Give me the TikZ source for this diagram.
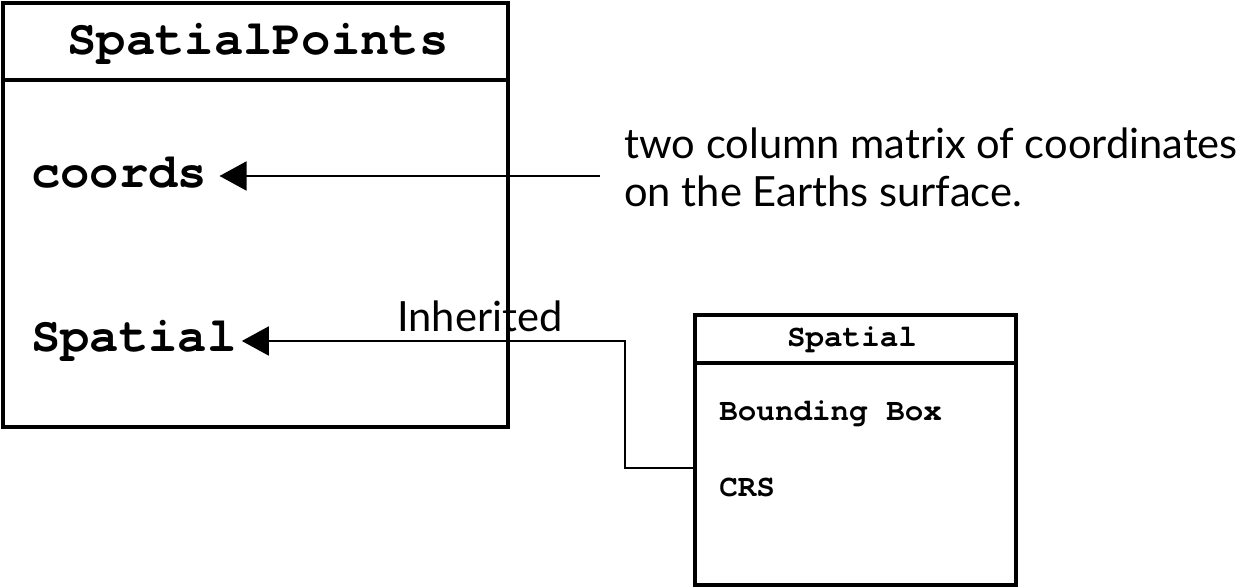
\documentclass[tikz,border=0pt]{standalone}
\usepackage{fontspec}
\newfontfamily\lato{Lato}
\newfontfamily\cour{TeX Gyre Cursor}
\usetikzlibrary{arrows.meta}
\begin{document}
\begin{tikzpicture}[x=0.02cm,y=-0.02cm,
  classbox/.style={draw=black,line width=2.27pt,fill=none,inner sep=0pt},
  smallbox/.style={draw=black,line width=2pt,fill=none,inner sep=0pt},
  bigtxt/.style={inner sep=0pt,font=\cour\bfseries\fontsize{27.8}{33}\selectfont},
  smalltxt/.style={inner sep=0pt,font=\cour\bfseries\fontsize{17.6}{21}\selectfont},
  note/.style={inner sep=0pt,font=\lato\fontsize{23.7}{28.4}\selectfont},
  conn/.style={draw=black,line width=1.13pt},
  arr/.style={conn,-{Triangle[length=0.54cm,width=0.58cm]}}]
\fill[white] (0,0) rectangle (1247,587);
\useasboundingbox (0,0) rectangle (1247,587);
% big class box
\node[classbox,minimum width=10.1cm,minimum height=8.48cm] (big) at (255.5,215) {};
\draw[line width=2.27pt] (big.west |- 0,80) -- (big.east |- 0,80);
\node[bigtxt,anchor=base] (bigtitle) at (258,54.5) {SpatialPoints};
\node[bigtxt,anchor=base west] (coords) at (31,188) {coords};
\node[bigtxt,anchor=base west] (spatial) at (31,352) {Spatial};
% small class box
\node[smallbox,minimum width=6.42cm,minimum height=5.4cm] (sbox) at (855.5,450) {};
\draw[line width=2pt] (sbox.west |- 0,363) -- (sbox.east |- 0,363);
\node[smalltxt,anchor=base] (stitle) at (852,347) {Spatial};
\node[smalltxt,anchor=base west] (bbox) at (719,420) {Bounding Box};
\node[smalltxt,anchor=base west] (crs) at (719,496) {CRS};
% note text
\node[note,anchor=base west] (note1) at (624,159) {two column matrix of coordinates};
\node[note,anchor=base west] (note2) at (624,207) {on the Earths surface.};
\node[note,anchor=base west] (inh) at (397,332) {Inherited};
% connectors
\coordinate (c1) at (600,176);
\draw[arr] (c1) -- ([xshift=0.24cm]coords.east |- c1);
\coordinate (bend) at (625,341);
\draw[arr] ([yshift=-0.36cm]sbox.west) -| (bend) -- ([xshift=0.1cm]spatial.east |- bend);
\end{tikzpicture}
\end{document}
